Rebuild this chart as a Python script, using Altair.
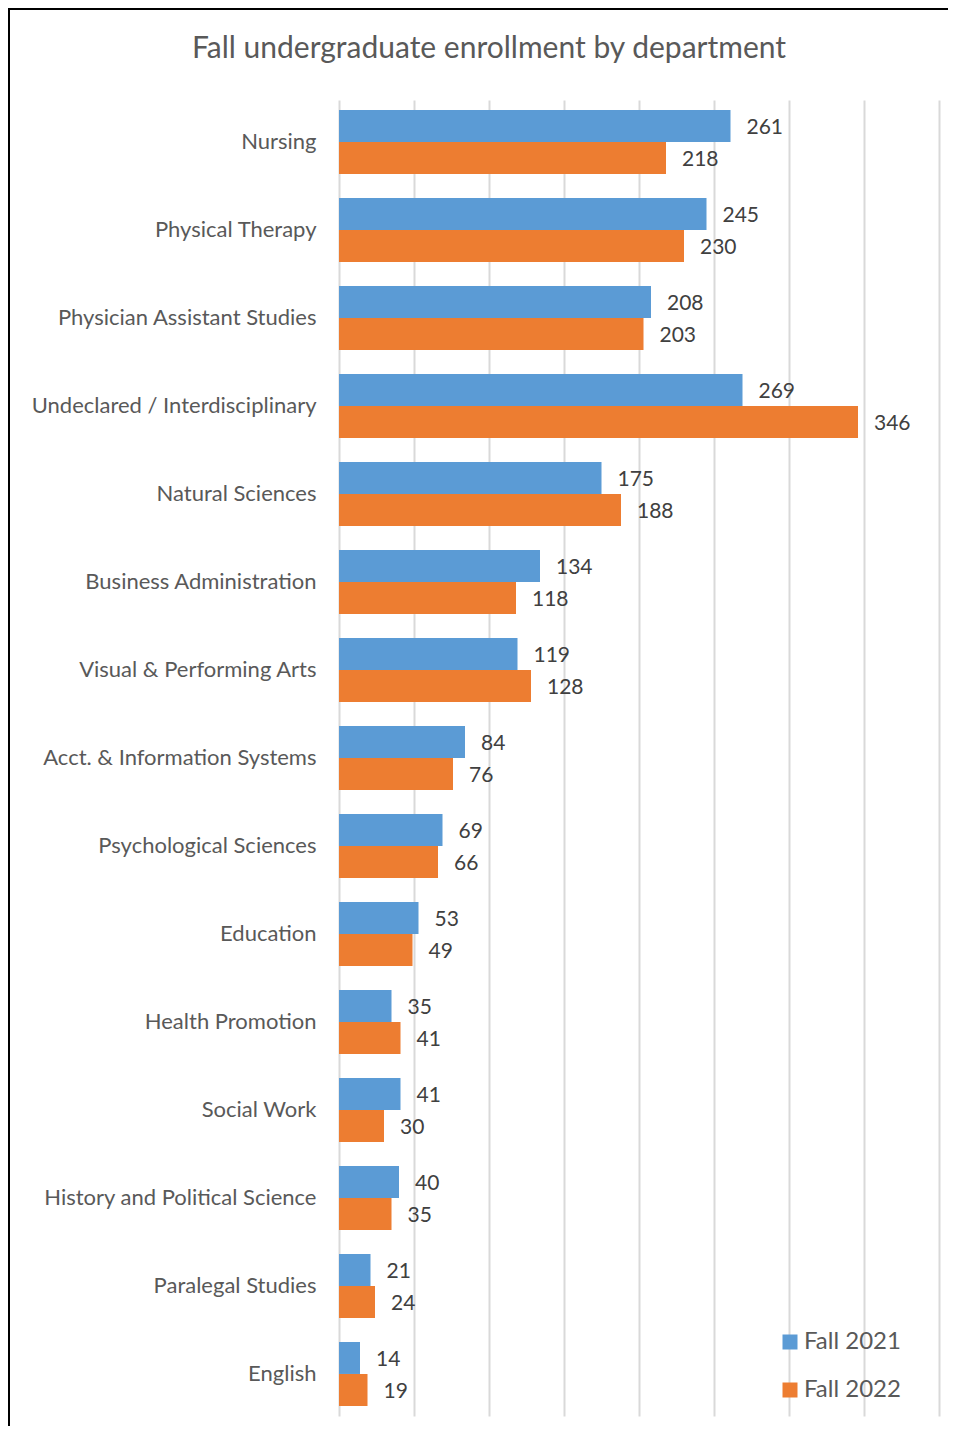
import altair as alt
import pandas as pd

departments = [
    "Nursing", "Physical Therapy", "Physician Assistant Studies",
    "Undeclared / Interdisciplinary", "Natural Sciences", "Business Administration",
    "Visual & Performing Arts", "Acct. & Information Systems", "Psychological Sciences",
    "Education", "Health Promotion", "Social Work", "History and Political Science",
    "Paralegal Studies", "English",
]
fall_2021 = [261, 245, 208, 269, 175, 134, 119, 84, 69, 53, 35, 41, 40, 21, 14]
fall_2022 = [218, 230, 203, 346, 188, 118, 128, 76, 66, 49, 41, 30, 35, 24, 19]
series = ["Fall 2021", "Fall 2022"]
colors = ["#5B9BD5", "#ED7D31"]
grid_values = [0, 50, 100, 150, 200, 250, 300, 350, 400]
title_text = "Fall undergraduate enrollment by department"

rows = []
for d, a, b in zip(departments, fall_2021, fall_2022):
    rows.append({"dept": d, "year": series[0], "value": a})
    rows.append({"dept": d, "year": series[1], "value": b})
df = pd.DataFrame(rows)

FONT = "Lato"

x_enc = alt.X("value:Q",
              scale=alt.Scale(domain=[0, 400], nice=False),
              axis=alt.Axis(values=grid_values, labels=False, ticks=False, domain=False,
                            grid=True, gridColor="#D9D9D9", gridWidth=2, title=None))
y_enc = alt.Y("dept:N", sort=departments,
              scale=alt.Scale(paddingInner=0.2727, paddingOuter=0.114),
              axis=alt.Axis(title=None, ticks=False, domain=False, labelPadding=23,
                            labelFontSize=22, labelColor="#595959", labelFont=FONT,
                            labelLimit=400))
yoff = alt.YOffset("year:N", sort=series, scale=alt.Scale(paddingInner=0, paddingOuter=0))

base = alt.Chart(df)

bars = base.mark_bar().encode(
    x=x_enc, y=y_enc, yOffset=yoff,
    color=alt.Color("year:N", sort=series,
                    scale=alt.Scale(domain=series, range=colors),
                    legend=alt.Legend(title=None, orient="none", legendX=439, legendY=1230,
                                      symbolType="square", symbolSize=225,
                                      symbolStrokeWidth=0, labelFontSize=24,
                                      labelFont=FONT, labelColor="#595959",
                                      rowPadding=24, labelOffset=2)),
)

labels = base.mark_text(align="left", baseline="middle", dx=16, dy=2, fontSize=21,
                        font=FONT, color="#404040").encode(
    x=alt.X("value:Q"), y=alt.Y("dept:N", sort=departments), yOffset=yoff,
    text=alt.Text("value:Q"),
)

one = pd.DataFrame({"k": [0]})
frame = alt.Chart(one).mark_rect(
    fill=None, stroke="black", strokeWidth=2
).encode(x=alt.value(-330), x2=alt.value(800), y=alt.value(-91), y2=alt.value(1600))

title = alt.Chart(one).mark_text(
    fontSize=30, font=FONT, color="#595959", align="center", baseline="middle"
).encode(x=alt.value(150), y=alt.value(-51), text=alt.value(title_text))

chart = alt.layer(bars, labels, frame, title).properties(
    width=600, height=1316,
    autosize=alt.AutoSizeParams(type="none"),
    padding={"left": 331, "top": 92, "right": 9, "bottom": 10},
).configure_view(stroke=None)

chart.save("out.html", embed_options={"renderer": "svg", "actions": False})
